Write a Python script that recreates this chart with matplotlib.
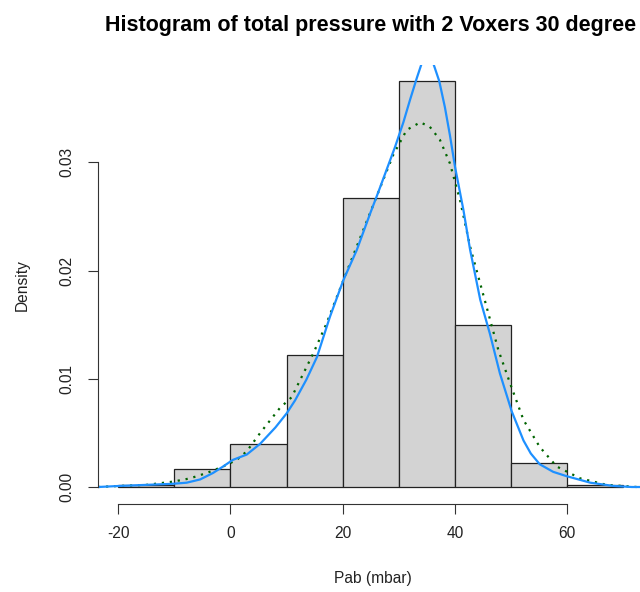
import numpy as np
import matplotlib
matplotlib.use("Agg")
import matplotlib.pyplot as plt

plt.rcParams['font.family'] = ['Liberation Sans', 'DejaVu Sans']

# histogram (density scale), bins of width 10
bin_edges = [-20, -10, 0, 10, 20, 30, 40, 50, 60, 70]
bin_density = [0.0002, 0.0017, 0.0040, 0.0122, 0.0267, 0.0375, 0.0150, 0.0022, 0.0002]

# blue density curve
blue_x = [-23.6, -19.7, -14.9, -10.2, -7.8, -5.4, -3.1, -1.3, 0.4, 2.9, 5.3, 8.0, 10.0,
          11.5, 13.5, 15.4, 17.7, 20.1, 22.5, 24.9, 26.3, 27.8, 29.3, 30.8, 32.0, 33.2,
          34.1, 35.0, 36.1, 37.2, 38.2, 39.1, 40.0, 41.5, 42.7, 44.5, 46.2, 48.0, 50.1,
          52.2, 53.5, 55.1, 57.5, 59.9, 64.1, 68.2, 71.5, 73.6]
blue_y = [0.0000, 0.0001, 0.0002, 0.0003, 0.0004, 0.0007, 0.0013, 0.0019, 0.0025, 0.0030,
          0.0040, 0.0055, 0.0068, 0.0080, 0.0099, 0.0120, 0.0157, 0.0191, 0.0219, 0.0253,
          0.0272, 0.0293, 0.0314, 0.0337, 0.0358, 0.0378, 0.0392, 0.0397, 0.0392, 0.0375,
          0.0351, 0.0325, 0.0296, 0.0256, 0.0219, 0.0173, 0.0142, 0.0105, 0.0070, 0.0043,
          0.0031, 0.0021, 0.0014, 0.0010, 0.0004, 0.0001, 0.0000, 0.0000]

# green dotted density curve
green_x = [-23.6, -19.7, -14.9, -10.2, -7.2, -4.2, -1.3, 1.1, 2.9, 5.3, 8.8, 10.9, 14.8,
           17.1, 20.1, 23.7, 26.0, 29.0, 31.4, 33.8, 35.5, 37.3, 39.1, 40.9, 42.7, 45.6,
           47.7, 49.8, 52.2, 55.1, 58.1, 62.3, 67.0, 72.4, 73.6]
green_y = [0.0000, 0.0001, 0.0002, 0.0005, 0.0008, 0.0013, 0.0019, 0.0025, 0.0033, 0.0050,
           0.0073, 0.0083, 0.0124, 0.0151, 0.0191, 0.0238, 0.0268, 0.0307, 0.0330, 0.0337,
           0.0333, 0.0321, 0.0299, 0.0265, 0.0222, 0.0167, 0.0127, 0.0096, 0.0062, 0.0037,
           0.0019, 0.0008, 0.0002, 0.0000, 0.0000]

x_ticks = [-20, 0, 20, 40, 60]
y_ticks = [0.00, 0.01, 0.02, 0.03]

fig = plt.figure(figsize=(6.4, 5.92), dpi=100)
ax = fig.add_axes([98 / 640, 88 / 592, 545.6 / 640, 439 / 592])

ax.bar(bin_edges[:-1], bin_density, width=10, align='edge',
       color='#d3d3d3', edgecolor='#222222', linewidth=0.9)
ax.plot(green_x, green_y, color='#006400', lw=1.6, linestyle=(0, (1, 2.6)))
ax.plot(blue_x, blue_y, color='#1e90ff', lw=1.6)

ax.set_xlim(-23.6, 73.6)
ax.set_ylim(-0.00157, 0.0390)

for s in ['top', 'right']:
    ax.spines[s].set_visible(False)
ax.spines['left'].set_bounds(0, 0.03)
ax.spines['bottom'].set_bounds(-20, 60)
for s in ['left', 'bottom']:
    ax.spines[s].set_linewidth(0.8)
    ax.spines[s].set_color('#333333')

ax.set_xticks(x_ticks)
ax.set_xticklabels([str(v) for v in x_ticks])
ax.set_yticks(y_ticks)
ax.set_yticklabels(['%.2f' % v for v in y_ticks])
ax.tick_params(length=7.2, width=0.8, color='#333333', labelsize=11.2, labelcolor='#222222')
ax.tick_params(axis='x', pad=9)
ax.tick_params(axis='y', pad=10)
plt.setp(ax.get_yticklabels(), rotation=90, va='center')

fig.text(373 / 640, 1 - 578 / 592, 'Pab (mbar)', ha='center', va='center', fontsize=11.2, color='#222222')
fig.text(22 / 640, 1 - 285 / 592, 'Density', ha='center', va='center', rotation=90,
         fontsize=11.2, color='#222222')
fig.text(105 / 640, 1 - 25 / 592, 'Histogram of total pressure with 2 Voxers 30 degree',
         ha='left', va='center', fontsize=15.5, fontweight='bold', color='black')

fig.savefig('out.png', dpi=100)
